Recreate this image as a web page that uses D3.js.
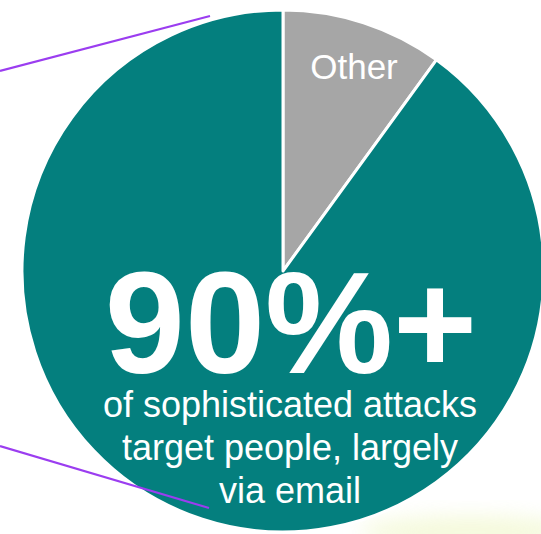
<!DOCTYPE html>
<html>
<head>
<meta charset="utf-8">
<script src="https://cdn.jsdelivr.net/npm/d3@7"></script>
<style>
  html, body { margin: 0; padding: 0; background: #fff; }
  svg { display: block; }
  text { font-family: "Liberation Sans", Arial, sans-serif; fill: #fff; }
</style>
</head>
<body>
<div id="chart"></div>
<script>
// Data
var categories = ["Other", "People"];
var values = [10, 90];
var colors = ["#a6a6a6", "#047f7e"];
var headline = "90%+";
var captionLines = ["of sophisticated attacks", "target people, largely", "via email"];

// Setup
var svgWidth = 541;
var svgHeight = 534;
var cx = 283, cy = 271, radius = 261;

var svg = d3.select("#chart")
    .append("svg")
    .attr("width", svgWidth)
    .attr("height", svgHeight);

// faint glow at bottom right
var defs = svg.append("defs");
defs.append("filter")
    .attr("id", "blur")
    .attr("x", "-50%").attr("y", "-50%")
    .attr("width", "200%").attr("height", "200%")
    .append("feGaussianBlur")
    .attr("stdDeviation", 10);

svg.append("ellipse")
    .attr("cx", 470)
    .attr("cy", 532)
    .attr("rx", 110)
    .attr("ry", 16)
    .attr("fill", "#eef6c4")
    .attr("opacity", 0.6)
    .attr("filter", "url(#blur)");

var pieData = categories.map(function (c, i) {
    return { name: c, value: values[i], color: colors[i] };
});

var pie = d3.pie()
    .sort(null)
    .value(d => d.value);

var arc = d3.arc()
    .innerRadius(0)
    .outerRadius(radius);

var chartGroup = svg.append("g")
    .attr("transform", `translate(${cx}, ${cy})`);

chartGroup.selectAll("path")
    .data(pie(pieData))
    .enter()
    .append("path")
    .attr("d", arc)
    .attr("fill", d => d.data.color)
    .attr("stroke", "#fff")
    .attr("stroke-width", 3)
    .attr("stroke-linejoin", "round");

// "Other" label
chartGroup.append("text")
    .attr("x", 354 - cx)
    .attr("y", 79 - cy)
    .attr("text-anchor", "middle")
    .style("font-size", "35px")
    .text(categories[0]);

// callout lines
var lines = [
    [[0, 71], [210, 16]],
    [[0, 446], [209, 508]]
];
svg.selectAll("line.callout")
    .data(lines)
    .enter()
    .append("line")
    .attr("class", "callout")
    .attr("x1", d => d[0][0])
    .attr("y1", d => d[0][1])
    .attr("x2", d => d[1][0])
    .attr("y2", d => d[1][1])
    .attr("stroke", "#9b3df0")
    .attr("stroke-width", 2.2);

// headline
svg.append("text")
    .attr("x", 291)
    .attr("y", 373)
    .attr("text-anchor", "middle")
    .style("font-size", "144px")
    .style("font-weight", "bold")
    .text(headline);

// caption
svg.selectAll("text.caption")
    .data(captionLines)
    .enter()
    .append("text")
    .attr("class", "caption")
    .attr("x", 290)
    .attr("y", (d, i) => 417 + i * 43)
    .attr("text-anchor", "middle")
    .style("font-size", "36px")
    .text(d => d);
</script>
</body>
</html>
